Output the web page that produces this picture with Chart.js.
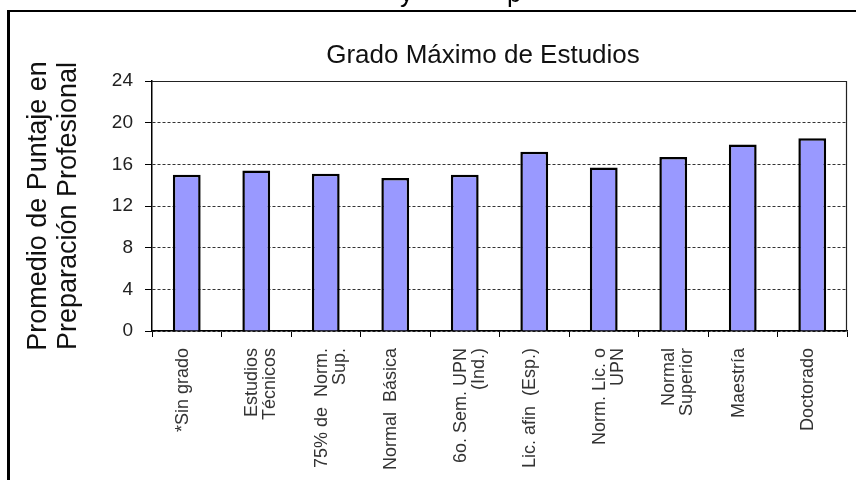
<!DOCTYPE html>
<html>
<head>
<meta charset="utf-8">
<script src="https://cdn.jsdelivr.net/npm/chart.js@4/dist/chart.umd.min.js"></script>
<style>
  html, body { margin: 0; padding: 0; background: #ffffff; }
  #wrap { width: 856px; height: 480px; position: relative; }
</style>
</head>
<body>
<div id="wrap"><canvas id="c" width="856" height="480"></canvas></div>
<script>
const chartTitle = 'Grado Máximo de Estudios';
const yAxisTitle = ['Promedio de Puntaje en', 'Preparación Profesional'];
const categories = [
  '*Sin grado',
  ['Estudios', 'Técnicos'],
  ['75% de  Norm.', 'Sup.'],
  'Normal  Básica',
  ['6o. Sem. UPN', '(Ind.)'],
  'Lic. afin  (Esp.)',
  ['Norm. Lic. o', 'UPN'],
  ['Normal', 'Superior'],
  'Maestría',
  'Doctorado'
];
const scores = [15.0, 15.4, 15.1, 14.7, 15.0, 17.2, 15.7, 16.7, 17.9, 18.5];
const yMin = 0, yMax = 24, yStep = 4;
const captionFragments = ['y', 'p'];

const FONT = "'Liberation Sans', Arial, sans-serif";

const framePlugin = {
  id: 'frame',
  beforeDraw(chart) {
    const ctx = chart.ctx;
    ctx.save();
    ctx.fillStyle = '#ffffff';
    ctx.fillRect(0, 0, chart.width, chart.height);
    // cut-off caption descenders above the frame
    ctx.fillStyle = '#000';
    ctx.font = '26px ' + FONT;
    ctx.textBaseline = 'alphabetic';
    ctx.fillText(captionFragments[0], 400, 2);
    ctx.fillText(captionFragments[1], 507, 2);
    // outer frame (left and top)
    ctx.fillStyle = '#000';
    ctx.fillRect(7, 10, 3, chart.height - 10);
    ctx.fillRect(7, 10, chart.width - 7, 2);
    // title
    ctx.fillStyle = '#111';
    ctx.font = '26px ' + FONT;
    ctx.textAlign = 'center';
    ctx.fillText(chartTitle, 483, 63);
    ctx.restore();
  },
  beforeDatasetsDraw(chart) {
    const a = chart.chartArea;
    const ctx = chart.ctx;
    ctx.save();
    ctx.strokeStyle = '#222';
    ctx.lineWidth = 1.2;
    ctx.beginPath();
    ctx.moveTo(a.left, a.top + 0.5);
    ctx.lineTo(a.right - 0.5, a.top + 0.5);
    ctx.lineTo(a.right - 0.5, a.bottom);
    ctx.stroke();
    ctx.restore();
  }
};

new Chart(document.getElementById('c'), {
  type: 'bar',
  data: {
    labels: categories,
    datasets: [{
      data: scores,
      backgroundColor: '#9999ff',
      borderColor: '#000000',
      borderWidth: 2.5,
      categoryPercentage: 1.0,
      barPercentage: 0.40
    }]
  },
  options: {
    responsive: false,
    animation: false,
    devicePixelRatio: 1,
    layout: { padding: { left: 20, top: 81, right: 9, bottom: 0 } },
    plugins: {
      legend: { display: false },
      title: { display: false },
      tooltip: { enabled: false }
    },
    scales: {
      x: {
        afterFit(scale) { scale.height = 149; },
        grid: {
          display: true,
          drawOnChartArea: false,
          drawTicks: true,
          tickLength: 6,
          tickColor: '#000',
          tickWidth: 1,
          offset: true
        },
        border: { display: true, color: '#000', width: 1.5 },
        ticks: {
          autoSkip: false,
          minRotation: 90,
          maxRotation: 90,
          padding: 11,
          labelOffset: -4,
          color: '#333',
          font: { family: FONT, size: 18, lineHeight: 1.0 }
        }
      },
      y: {
        min: yMin,
        max: yMax,
        afterFit(scale) { scale.width = 132; },
        grid: {
          color: '#333',
          lineWidth: 1,
          drawTicks: true,
          tickLength: 7,
          tickColor: '#000',
          tickWidth: 1
        },
        border: { display: true, color: '#000', width: 1.5, dash: [3, 2] },
        ticks: {
          stepSize: yStep,
          padding: 12,
          color: '#222',
          font: { family: FONT, size: 19 }
        },
        title: {
          display: true,
          text: yAxisTitle,
          color: '#111',
          font: { family: FONT, size: 27, lineHeight: 1.1 },
          padding: { top: 4, bottom: 0 }
        }
      }
    }
  },
  plugins: [framePlugin]
});
</script>
</body>
</html>
